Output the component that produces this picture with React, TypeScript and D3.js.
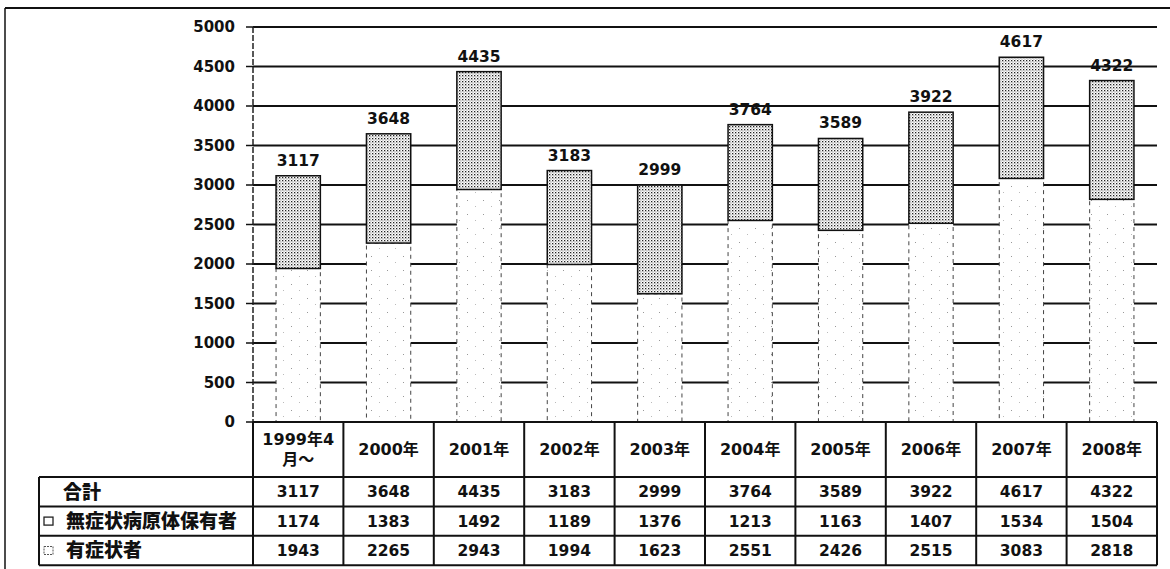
import React from "react";
import * as d3 from "d3";

// 年別の件数（下段: 有症状者, 上段: 無症状病原体保有者）
const categories = [
  "1999年4\n月～",
  "2000年",
  "2001年",
  "2002年",
  "2003年",
  "2004年",
  "2005年",
  "2006年",
  "2007年",
  "2008年",
];
const totals = [3117, 3648, 4435, 3183, 2999, 3764, 3589, 3922, 4617, 4322];
const asymptomatic = [1174, 1383, 1492, 1189, 1376, 1213, 1163, 1407, 1534, 1504];
const symptomatic = [1943, 2265, 2943, 1994, 1623, 2551, 2426, 2515, 3083, 2818];
const yTicks = [0, 500, 1000, 1500, 2000, 2500, 3000, 3500, 4000, 4500, 5000];

const seriesNames = ["合計", "無症状病原体保有者", "有症状者"];

const width = 1170;
const height = 569;
const plotLeft = 253;
const plotRight = 1157;
const plotTop = 27;
const plotBottom = 422;
const headerBottom = 477;
const rowH = 29.4;
const tableLeft = 39;

const fontFamily = "'DejaVu Sans', 'Noto Sans CJK JP', sans-serif";
const cjkFont = "'Noto Sans CJK JP', 'DejaVu Sans', sans-serif";

export default function App() {
  const x = d3
    .scaleBand<string>()
    .domain(categories)
    .range([plotLeft, plotRight])
    .paddingInner(0.51)
    .paddingOuter(0.255);
  const step = x.step();

  const y = d3.scaleLinear().domain([0, 5000]).range([plotBottom, plotTop]);

  const stacked = d3
    .stack<number>()
    .keys(["sym", "asym"])
    .value((i, key) => (key === "sym" ? symptomatic[i] : asymptomatic[i]))(
    d3.range(categories.length)
  );

  const rows = [totals, asymptomatic, symptomatic];
  const tableBottom = headerBottom + rowH * rows.length;

  return (
    <svg
      width={width}
      height={height}
      style={{ position: "absolute", left: 0, top: 0, background: "#fff" }}
      fontFamily={fontFamily}
      fontWeight="bold"
    >
      <defs>
        <pattern id="dense" width="3" height="3" patternUnits="userSpaceOnUse">
          <rect width="3" height="3" fill="#fff" />
          <rect x="0" y="0" width="1.3" height="1.3" fill="#222" />
          <rect x="1.5" y="1.5" width="1" height="1" fill="#666" />
        </pattern>
        <pattern id="sparse" width="16" height="14" patternUnits="userSpaceOnUse">
          <rect width="16" height="14" fill="#fff" />
          <rect x="3" y="4" width="1" height="1" fill="#999" />
          <rect x="11" y="10" width="1" height="1" fill="#bbb" />
        </pattern>
      </defs>

      {/* outer frame */}
      <line x1={5} x2={width} y1={8} y2={8} stroke="#111" strokeWidth={2} />
      <line x1={5} x2={5} y1={8} y2={height} stroke="#111" strokeWidth={1.5} />

      {/* gridlines */}
      {yTicks.slice(1).map((t) => (
        <line
          key={t}
          x1={plotLeft}
          x2={plotRight}
          y1={y(t)}
          y2={y(t)}
          stroke="#111"
          strokeWidth={2}
        />
      ))}

      {/* y axis */}
      <line
        x1={plotLeft}
        x2={plotLeft}
        y1={plotTop}
        y2={plotBottom}
        stroke="#222"
        strokeWidth={1.5}
        strokeDasharray="6,2"
      />
      {yTicks.map((t) => (
        <g key={t}>
          <line x1={plotLeft - 7} x2={plotLeft} y1={y(t)} y2={y(t)} stroke="#111" strokeWidth={1.5} />
          <text x={235} y={y(t)} dy="0.36em" textAnchor="end" fontSize={15} fill="#111">
            {t}
          </text>
        </g>
      ))}

      {/* bars: bottom segment */}
      {stacked[0].map((d, i) => (
        <rect
          key={"s" + i}
          x={x(categories[i])}
          y={y(d[1])}
          width={x.bandwidth()}
          height={y(d[0]) - y(d[1])}
          fill="url(#sparse)"
          stroke="#444"
          strokeWidth={1}
          strokeDasharray="4,4"
        />
      ))}
      {/* bars: top segment */}
      {stacked[1].map((d, i) => (
        <rect
          key={"a" + i}
          x={x(categories[i])}
          y={y(d[1])}
          width={x.bandwidth()}
          height={y(d[0]) - y(d[1])}
          fill="url(#dense)"
          stroke="#111"
          strokeWidth={1.5}
        />
      ))}
      {/* totals above bars */}
      {totals.map((v, i) => (
        <text
          key={"t" + i}
          x={(x(categories[i]) ?? 0) + x.bandwidth() / 2}
          y={y(v) - 10}
          textAnchor="middle"
          fontSize={15.5}
          fill="#111"
        >
          {v}
        </text>
      ))}

      {/* data table */}
      <g stroke="#111" strokeWidth={2} fill="none">
        <line x1={plotLeft} x2={plotRight} y1={plotBottom} y2={plotBottom} />
        {d3.range(rows.length + 1).map((r) => (
          <line
            key={"r" + r}
            x1={tableLeft}
            x2={plotRight}
            y1={headerBottom + r * rowH}
            y2={headerBottom + r * rowH}
          />
        ))}
        <line x1={tableLeft} x2={tableLeft} y1={headerBottom} y2={tableBottom} />
        {d3.range(categories.length + 1).map((c) => (
          <line
            key={"c" + c}
            x1={plotLeft + c * step}
            x2={plotLeft + c * step}
            y1={plotBottom}
            y2={tableBottom}
          />
        ))}
      </g>

      {categories.map((c, i) => {
        const lines = c.split("\n");
        const cx = plotLeft + (i + 0.5) * step;
        const cy = (plotBottom + headerBottom) / 2;
        return (
          <text key={"h" + i} x={cx} textAnchor="middle" fontSize={16} fill="#111">
            {lines.map((l, k) => (
              <tspan key={k} x={cx} y={cy + (k - (lines.length - 1) / 2) * 20} dy="0.36em">
                {l}
              </tspan>
            ))}
          </text>
        );
      })}

      {rows.map((vals, r) => (
        <g key={"row" + r}>
          {vals.map((v, i) => (
            <text
              key={i}
              x={plotLeft + (i + 0.5) * step}
              y={headerBottom + (r + 0.5) * rowH}
              dy="0.36em"
              textAnchor="middle"
              fontSize={15.5}
              fill="#111"
            >
              {v}
            </text>
          ))}
        </g>
      ))}

      {/* row labels with legend keys */}
      <g fontFamily={cjkFont} fontWeight={900} fontSize={19} fill="#111">
        <text x={63} y={headerBottom + 0.5 * rowH} dy="0.36em">
          {seriesNames[0]}
        </text>
        <text x={66} y={headerBottom + 1.5 * rowH} dy="0.36em">
          {seriesNames[1]}
        </text>
        <text x={66} y={headerBottom + 2.5 * rowH} dy="0.36em">
          {seriesNames[2]}
        </text>
      </g>
      <rect
        x={44}
        y={headerBottom + 1.5 * rowH - 4}
        width={9}
        height={8}
        fill="#fff"
        stroke="#222"
        strokeWidth={1.3}
      />
      <rect
        x={44}
        y={headerBottom + 2.5 * rowH - 4}
        width={9}
        height={8}
        fill="#fff"
        stroke="#555"
        strokeWidth={1}
        strokeDasharray="2,1"
      />
    </svg>
  );
}
